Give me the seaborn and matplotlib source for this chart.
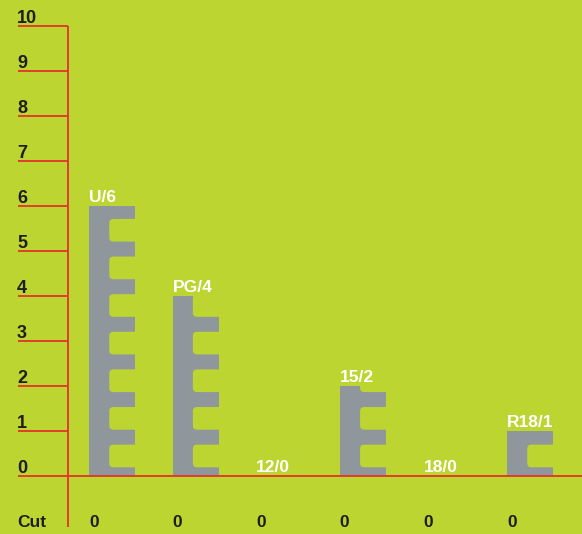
import matplotlib
matplotlib.use("Agg")
import matplotlib.pyplot as plt
import seaborn as sns
import pandas as pd
from matplotlib.patches import FancyBboxPatch

# ---- data ----
categories = ["U", "PG", "12", "15", "18", "R18"]
counts = [6, 4, 0, 2, 0, 1]
cuts = [0, 0, 0, 0, 0, 0]
y_ticks = [0, 1, 2, 3, 4, 5, 6, 7, 8, 9, 10]
row_label = "Cut"

# ---- style ----
BG = "#BCD531"
BAR = "#8F979C"
RED = "#E5322B"
DARK = "#1E1E1C"
BAR_W = 0.55

sns.set_theme(style="white")
plt.rcParams['font.family'] = ['Liberation Sans', 'DejaVu Sans']

fig = plt.figure(figsize=(5.82, 5.34), dpi=100, facecolor=BG)
ax = fig.add_axes([0, 0, 1, 1])
ax.set_facecolor(BG)

df = pd.DataFrame({"rating": categories, "count": counts})
sns.barplot(data=df, x="rating", y="count", order=categories, color=BAR,
            saturation=1, width=BAR_W, ax=ax, errorbar=None, linewidth=0,
            zorder=2)

X_LEFT, X_RIGHT = -1.340, 5.622
Y_BOT, Y_TOP = -1.289, 10.578
ax.set_xlim(X_LEFT, X_RIGHT)
ax.set_ylim(Y_BOT, Y_TOP)
for s in ax.spines.values():
    s.set_visible(False)
ax.set_xticks([])
ax.set_yticks([])
ax.set_xlabel("")
ax.set_ylabel("")

# pixel scale to keep the notch corners round
p0 = ax.transData.transform((0, 0))
p1 = ax.transData.transform((1, 1))
aspect = (p1[0] - p0[0]) / (p1[1] - p0[1])

AXIS_X = -0.532
TICK_X0 = -1.124
LABEL_X = -1.136
BASE_Y = -1.133

# notches (film-strip look), clipped to each bar
N_OFF, N_PER, N_H = 0.193, 0.836, 0.504
for bar in list(ax.patches):
    x = bar.get_x()
    w = bar.get_width()
    h = bar.get_height()
    k = 0
    while h > 0 and N_OFF + k * N_PER < h:
        b = N_OFF + k * N_PER
        notch = FancyBboxPatch((x + 0.44 * w, b), w, N_H,
                               boxstyle="round,pad=0,rounding_size=0.05",
                               mutation_aspect=aspect, facecolor=BG,
                               edgecolor="none", zorder=3)
        ax.add_patch(notch)
        notch.set_clip_path(bar)
        k += 1

# red axis lines
ax.plot([AXIS_X, AXIS_X], [BASE_Y, y_ticks[-1]], color=RED, lw=1.3, zorder=4,
        solid_capstyle="butt")
for t in y_ticks:
    x_end = X_RIGHT + 0.1 if t == 0 else AXIS_X
    ax.plot([TICK_X0, x_end], [t, t], color=RED, lw=1.3, zorder=4,
            solid_capstyle="butt")
    ax.annotate(str(t), (LABEL_X, t), xytext=(0, 2.2), textcoords="offset points",
                ha="left", va="baseline", fontsize=13, fontweight="bold",
                color=DARK)

# bar labels and bottom row
for i, (cat, c, cut) in enumerate(zip(categories, counts, cuts)):
    left = i - BAR_W / 2
    ax.annotate(f"{cat}/{c}", (left, c), xytext=(0, 3.2), textcoords="offset points",
                ha="left", va="baseline", fontsize=12.5, fontweight="bold",
                color="white", zorder=5)
    ax.text(left, BASE_Y, str(cut), ha="left", va="baseline", fontsize=12.5,
            fontweight="bold", color=DARK)

ax.text(LABEL_X, BASE_Y, row_label, ha="left", va="baseline", fontsize=12.5,
        fontweight="bold", color=DARK)

fig.savefig("out.png", dpi=100, facecolor=BG)
